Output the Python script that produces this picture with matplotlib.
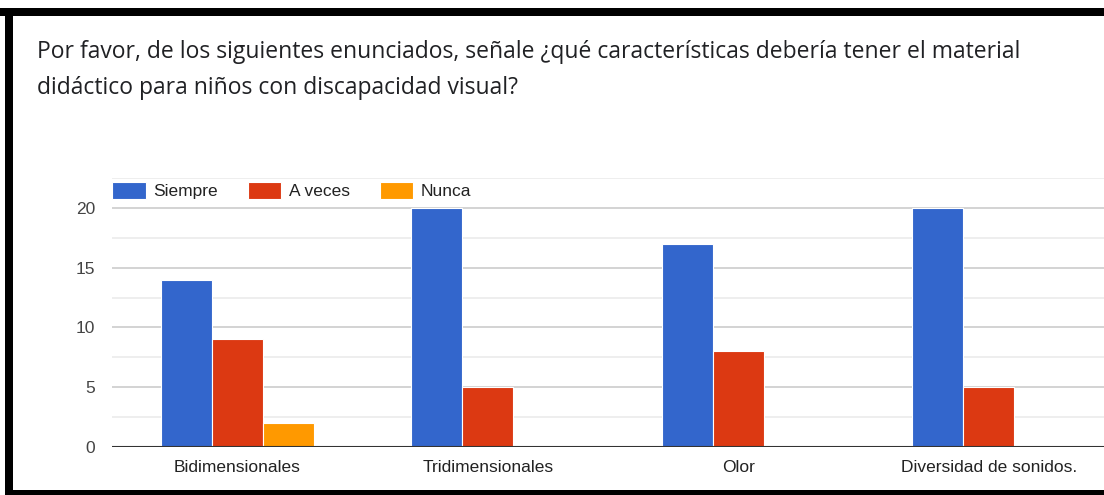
import numpy as np
import matplotlib
matplotlib.use("Agg")
import matplotlib.pyplot as plt
from matplotlib.patches import Rectangle
from matplotlib.ticker import MultipleLocator

categories = ["Bidimensionales", "Tridimensionales", "Olor", "Diversidad de sonidos."]
siempre = [14, 20, 17, 20]
a_veces = [9, 5, 8, 5]
nunca = [2, 0, 0, 0]
series_names = ["Siempre", "A veces", "Nunca"]
colors = ["#3366cc", "#dc3912", "#ff9900"]

W, H = 1104, 495
fig = plt.figure(figsize=(W / 100, H / 100), dpi=100)

# axes spans x 112..1114 px, y 447..178 px
ax = fig.add_axes([112 / W, 1 - 447 / H, 1002 / W, (447 - 178) / H])

x = np.arange(len(categories))
bw = 0.2035
for i, (vals, name, c) in enumerate(zip([siempre, a_veces, nunca], series_names, colors)):
    ax.bar(x + (i - 1) * bw, vals, width=bw, color=c, label=name,
           edgecolor="white", linewidth=0.8, zorder=3)

ax.set_xlim(-0.5, 3.5)
ax.set_ylim(0, 22.5)
ax.set_yticks([0, 5, 10, 15, 20])
ax.yaxis.set_minor_locator(MultipleLocator(2.5))
ax.grid(axis="y", which="major", color="#cccccc", linewidth=1.2, zorder=0)
ax.grid(axis="y", which="minor", color="#ebebeb", linewidth=1.2, zorder=0)
ax.axhline(0, color="#333333", linewidth=1.5, zorder=4)
for s in ax.spines.values():
    s.set_visible(False)
ax.set_xticks(x)
ax.set_xticklabels(categories)
ax.tick_params(axis="both", which="both", length=0)
ax.tick_params(axis="x", pad=9, labelsize=12.5, labelcolor="#222222")
ax.tick_params(axis="y", pad=12, labelsize=12.5, labelcolor="#444444")
for lab in ax.get_xticklabels() + ax.get_yticklabels():
    lab.set_family("Liberation Sans")

leg = ax.legend(loc="center left", bbox_to_anchor=(112 / W, 1 - 190.5 / H),
                bbox_transform=fig.transFigure, ncol=3, frameon=False,
                borderpad=0, borderaxespad=0, handlelength=1.95, handleheight=1.1,
                handletextpad=0.42, columnspacing=1.72,
                prop={"family": "Liberation Sans", "size": 12.5})
for t in leg.get_texts():
    t.set_color("#222222")

title1 = "Por favor, de los siguientes enunciados, señale ¿qué características debería tener el material"
title2 = "didáctico para niños con discapacidad visual?"
fig.text(37 / W, 1 - 58 / H, title1, fontsize=16.45, family="Open Sans", color="#202124", va="baseline")
fig.text(37 / W, 1 - 94 / H, title2, fontsize=16.45, family="Open Sans", color="#202124", va="baseline")

# black screenshot border
fig.add_artist(Rectangle((0, 1 - 16 / H), 1, 8 / H, transform=fig.transFigure, color="black", lw=0))
fig.add_artist(Rectangle((5 / W, 0), 8 / W, 1 - 8 / H, transform=fig.transFigure, color="black", lw=0))
fig.add_artist(Rectangle((5 / W, 0), 1, 5 / H, transform=fig.transFigure, color="black", lw=0))

fig.savefig("out.png", dpi=100)
